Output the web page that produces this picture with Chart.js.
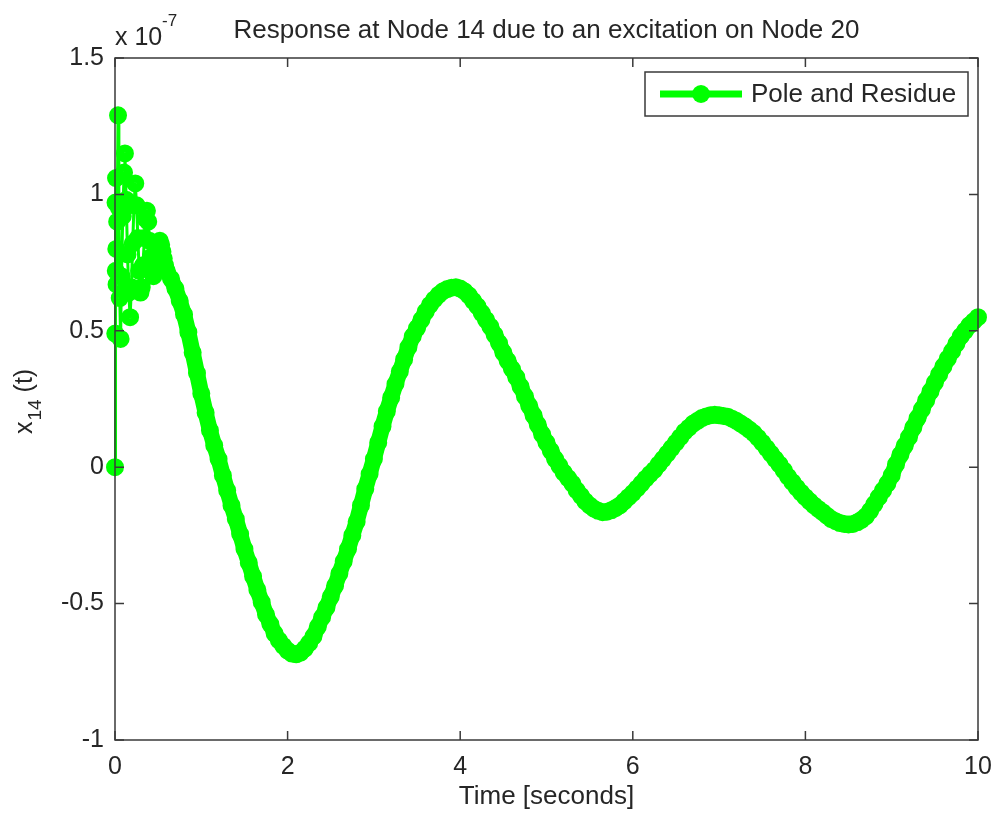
<!DOCTYPE html>
<html>
<head>
<meta charset="utf-8">
<script src="https://cdn.jsdelivr.net/npm/chart.js@4.4.1/dist/chart.umd.min.js"></script>
<style>
  html, body { margin: 0; padding: 0; background: #fff; }
  #wrap { width: 996px; height: 813px; }
</style>
</head>
<body>
<div id="wrap"><canvas id="chart" width="996" height="813"></canvas></div>
<script>
// time axis [s] and response x14(t) in units of 1e-7
const timeSec = [
  0, 0.003, 0.006, 0.009, 0.012, 0.015, 0.018, 0.025, 0.035, 0.045,
  0.055, 0.065, 0.075, 0.09, 0.105, 0.115, 0.13, 0.145, 0.16, 0.175,
  0.19, 0.205, 0.22, 0.235, 0.25, 0.265, 0.28, 0.295, 0.31, 0.325,
  0.34, 0.355, 0.37, 0.385, 0.4, 0.415, 0.43, 0.445, 0.46, 0.475,
  0.49, 0.505, 0.52, 0.535, 0.55, 0.565, 0.58,
  0.60, 0.65, 0.70, 0.75, 0.80, 0.85, 0.90, 0.95,
  1.00, 1.05, 1.10, 1.15, 1.20, 1.25, 1.30, 1.35, 1.40, 1.45, 1.50, 1.55, 1.60, 1.65, 1.70, 1.75, 1.80, 1.85, 1.90, 1.95,
  2.00, 2.05, 2.10, 2.15, 2.20, 2.25, 2.30, 2.35, 2.40, 2.45, 2.50, 2.55, 2.60, 2.65, 2.70, 2.75, 2.80, 2.85, 2.90, 2.95,
  3.00, 3.05, 3.10, 3.15, 3.20, 3.25, 3.30, 3.35, 3.40, 3.45, 3.50, 3.55, 3.60, 3.65, 3.70, 3.75, 3.80, 3.85, 3.90, 3.95,
  4.00, 4.05, 4.10, 4.15, 4.20, 4.25, 4.30, 4.35, 4.40, 4.45, 4.50, 4.55, 4.60, 4.65, 4.70, 4.75, 4.80, 4.85, 4.90, 4.95,
  5.00, 5.05, 5.10, 5.15, 5.20, 5.25, 5.30, 5.35, 5.40, 5.45, 5.50, 5.55, 5.60, 5.65, 5.70, 5.75, 5.80, 5.85, 5.90, 5.95,
  6.00, 6.05, 6.10, 6.15, 6.20, 6.25, 6.30, 6.35, 6.40, 6.45, 6.50, 6.55, 6.60, 6.65, 6.70, 6.75, 6.80, 6.85, 6.90, 6.95,
  7.00, 7.05, 7.10, 7.15, 7.20, 7.25, 7.30, 7.35, 7.40, 7.45, 7.50, 7.55, 7.60, 7.65, 7.70, 7.75, 7.80, 7.85, 7.90, 7.95,
  8.00, 8.05, 8.10, 8.15, 8.20, 8.25, 8.30, 8.35, 8.40, 8.45, 8.50, 8.55, 8.60, 8.65, 8.70, 8.75, 8.80, 8.85, 8.90, 8.95,
  9.00, 9.05, 9.10, 9.15, 9.20, 9.25, 9.30, 9.35, 9.40, 9.45, 9.50, 9.55, 9.60, 9.65, 9.70, 9.75, 9.80, 9.85, 9.90, 9.95,
  10.00
];

const responseE7 = [
  0, 0.49, 0.97, 0.72, 1.06, 0.80, 0.67, 0.90, 1.29, 0.95,
  0.62, 0.47, 0.70, 0.92, 1.08, 1.15, 0.98, 0.78, 0.64, 0.55,
  0.66, 0.82, 0.96, 1.04, 0.96, 0.84, 0.72, 0.64, 0.66, 0.74,
  0.84, 0.91, 0.94, 0.90, 0.83, 0.77, 0.72, 0.70, 0.72, 0.76,
  0.80, 0.825, 0.83, 0.815, 0.79, 0.765, 0.74,
  0.72, 0.69, 0.655, 0.61, 0.56, 0.495, 0.42, 0.345,
  0.27, 0.20, 0.135, 0.08, 0.03, -0.03, -0.085, -0.14, -0.19, -0.245, -0.30, -0.35, -0.40, -0.45, -0.495, -0.54, -0.575, -0.61, -0.635, -0.655,
  -0.672, -0.683, -0.686, -0.68, -0.665, -0.645, -0.62, -0.585, -0.55, -0.515, -0.475, -0.435, -0.39, -0.345, -0.30, -0.25, -0.20, -0.14, -0.08, -0.025,
  0.03, 0.09, 0.15, 0.205, 0.255, 0.305, 0.35, 0.395, 0.44, 0.48, 0.51, 0.54, 0.57, 0.595, 0.615, 0.632, 0.645, 0.653, 0.658, 0.66,
  0.655, 0.645, 0.63, 0.61, 0.59, 0.565, 0.54, 0.515, 0.485, 0.455, 0.42, 0.39, 0.36, 0.33, 0.295, 0.26, 0.225, 0.19, 0.155, 0.12,
  0.09, 0.06, 0.03, 0.005, -0.02, -0.04, -0.06, -0.085, -0.105, -0.125, -0.14, -0.152, -0.16, -0.165, -0.163, -0.158, -0.15, -0.14, -0.125, -0.11,
  -0.095, -0.078, -0.06, -0.042, -0.025, -0.01, 0.01, 0.03, 0.05, 0.07, 0.09, 0.11, 0.13, 0.145, 0.16, 0.17, 0.18, 0.186, 0.19, 0.192,
  0.19, 0.188, 0.185, 0.178, 0.17, 0.16, 0.15, 0.138, 0.125, 0.108, 0.09, 0.07, 0.05, 0.03, 0.01, -0.012, -0.035, -0.055, -0.075, -0.093,
  -0.11, -0.125, -0.14, -0.153, -0.165, -0.178, -0.19, -0.198, -0.205, -0.208, -0.21, -0.208, -0.202, -0.193, -0.18, -0.16, -0.135, -0.11, -0.085, -0.06,
  -0.03, 0.01, 0.045, 0.078, 0.11, 0.145, 0.18, 0.212, 0.245, 0.278, 0.31, 0.34, 0.37, 0.398, 0.425, 0.453, 0.48, 0.50, 0.52, 0.535,
  0.55
];

const xTickValues = [0, 2, 4, 6, 8, 10];
const xTickLabels = ['0', '2', '4', '6', '8', '10'];
const yTickValues = [-1, -0.5, 0, 0.5, 1, 1.5];
const yTickLabels = ['-1', '-0.5', '0', '0.5', '1', '1.5'];

const seriesName = 'Pole and Residue';
const chartTitle = 'Response at Node 14 due to an excitation on Node 20';
const xAxisTitle = 'Time [seconds]';

const GREEN = '#00ff00';
const INK = '#262626';
const FONT = '"Liberation Sans", Arial, sans-serif';

const points = timeSec.map((t, i) => ({ x: t, y: responseE7[i] }));

// box, inward ticks, titles and legend drawn MATLAB style
const matlabFrame = {
    id: 'matlabFrame',
    afterDatasetsDraw(chart) {
        const { ctx, chartArea: a, scales } = chart;
        const tick = 9;
        ctx.save();
        ctx.strokeStyle = '#3a3a3a';
        ctx.lineWidth = 1.5;
        ctx.strokeRect(a.left, a.top, a.right - a.left, a.bottom - a.top);
        ctx.beginPath();
        xTickValues.forEach(v => {
            const px = scales.x.getPixelForValue(v);
            ctx.moveTo(px, a.bottom); ctx.lineTo(px, a.bottom - tick);
            ctx.moveTo(px, a.top); ctx.lineTo(px, a.top + tick);
        });
        yTickValues.forEach(v => {
            const py = scales.y.getPixelForValue(v);
            ctx.moveTo(a.left, py); ctx.lineTo(a.left + tick, py);
            ctx.moveTo(a.right, py); ctx.lineTo(a.right - tick, py);
        });
        ctx.stroke();
        ctx.restore();
    },
    afterDraw(chart) {
        const { ctx, chartArea: a } = chart;
        ctx.save();
        ctx.fillStyle = INK;
        ctx.textBaseline = 'alphabetic';

        // title
        ctx.font = '26px ' + FONT;
        ctx.textAlign = 'center';
        ctx.fillText(chartTitle, (a.left + a.right) / 2, 38);

        // x axis title
        ctx.fillText(xAxisTitle, (a.left + a.right) / 2, 804);

        // exponent label
        ctx.textAlign = 'left';
        ctx.font = '25px ' + FONT;
        ctx.fillText('x 10', a.left, 45);
        ctx.font = '17px ' + FONT;
        ctx.fillText('-7', a.left + 47, 26);

        // y axis title x_14 (t)
        ctx.save();
        ctx.translate(32, 434);
        ctx.rotate(-Math.PI / 2);
        ctx.font = '25px ' + FONT;
        ctx.fillText('x', 0, 0);
        let w = ctx.measureText('x').width;
        ctx.font = '19px ' + FONT;
        ctx.fillText('14', w + 1, 9);
        w += 1 + ctx.measureText('14').width;
        ctx.font = '25px ' + FONT;
        ctx.fillText(' (t)', w, 0);
        ctx.restore();

        // legend
        const lx = 645, ly = 72, lw = 323, lh = 44;
        ctx.fillStyle = '#fff';
        ctx.fillRect(lx, ly, lw, lh);
        ctx.strokeStyle = '#3a3a3a';
        ctx.lineWidth = 1.5;
        ctx.strokeRect(lx, ly, lw, lh);
        const cy = ly + lh / 2;
        ctx.strokeStyle = GREEN;
        ctx.lineWidth = 7;
        ctx.beginPath();
        ctx.moveTo(660, cy); ctx.lineTo(742, cy);
        ctx.stroke();
        ctx.fillStyle = GREEN;
        ctx.beginPath();
        ctx.arc(701, cy, 9, 0, Math.PI * 2);
        ctx.fill();
        ctx.fillStyle = INK;
        ctx.font = '26px ' + FONT;
        ctx.textAlign = 'left';
        ctx.textBaseline = 'middle';
        ctx.fillText(seriesName, 751, cy + 1);
        ctx.restore();
    }
};

const ctx = document.getElementById('chart').getContext('2d');
new Chart(ctx, {
    type: 'line',
    data: {
        datasets: [{
            label: seriesName,
            data: points,
            borderColor: GREEN,
            borderWidth: 3,
            // the noisy start keeps thin connecting lines, the smooth part is a solid band
            segment: {
                borderWidth: s => (s.p0.parsed.x < 0.59 ? 3 : 16)
            },
            borderJoinStyle: 'round',
            borderCapStyle: 'round',
            pointRadius: 5,
            pointBorderWidth: 8,
            pointBorderColor: GREEN,
            pointBackgroundColor: 'rgba(0,0,0,0)',
            tension: 0,
            clip: false
        }]
    },
    options: {
        responsive: false,
        animation: false,
        events: [],
        layout: { padding: { top: 58, right: 18, left: 0, bottom: 0 } },
        plugins: {
            legend: { display: false },
            title: { display: false },
            tooltip: { enabled: false }
        },
        scales: {
            x: {
                type: 'linear',
                min: 0,
                max: 10,
                grid: { display: false, drawTicks: false },
                border: { display: false },
                afterBuildTicks(scale) { scale.ticks = xTickValues.map(v => ({ value: v })); },
                afterFit(scale) {
                    scale.height = 73;
                    scale.paddingLeft = 0;
                    scale.paddingRight = 0;
                },
                ticks: {
                    color: INK,
                    font: { family: FONT, size: 25 },
                    padding: 12,
                    maxRotation: 0,
                    callback: v => xTickLabels[xTickValues.indexOf(v)]
                }
            },
            y: {
                type: 'linear',
                min: -1,
                max: 1.5,
                grid: { display: false, drawTicks: false },
                border: { display: false },
                afterBuildTicks(scale) { scale.ticks = yTickValues.map(v => ({ value: v })); },
                afterFit(scale) {
                    scale.width = 115;
                    scale.paddingTop = 0;
                    scale.paddingBottom = 0;
                },
                ticks: {
                    color: INK,
                    font: { family: FONT, size: 25 },
                    padding: 11,
                    callback: v => yTickLabels[yTickValues.indexOf(v)]
                }
            }
        }
    },
    plugins: [matlabFrame]
});
</script>
</body>
</html>
